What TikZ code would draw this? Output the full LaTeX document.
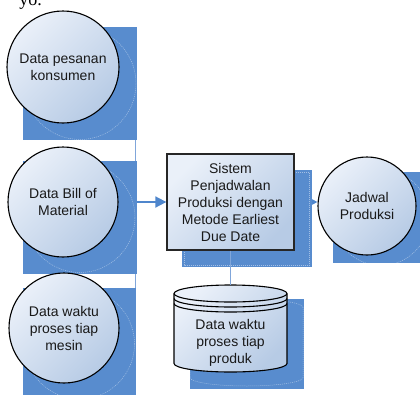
\documentclass[tikz,border=0pt]{standalone}
\usepackage{fontspec}
\setmainfont{Liberation Sans}
\newfontfamily\bodyserif{Liberation Serif}
\usetikzlibrary{arrows.meta}
\pgfdeclarelayer{lines}
\pgfdeclarelayer{shadows}
\pgfsetlayers{lines,shadows,main}

\definecolor{fillLight}{RGB}{234,240,249}
\definecolor{fillDark}{RGB}{183,203,229}
\definecolor{shadowBlue}{RGB}{88,140,206}
\definecolor{flowBlue}{RGB}{79,134,204}
\definecolor{feedBlue}{RGB}{128,166,218}

\tikzset{
  gradfill/.style={top color=fillLight, bottom color=fillDark, shading angle=45},
  label text/.style={align=center, font=\fontsize{14}{17}\selectfont, text=black!90},
  datacircle/.style={circle, draw=black, line width=1.1pt, inner sep=0pt,
    gradfill, label text},
  procbox/.style={rectangle, draw=black!85, line width=1.3pt, inner sep=0pt,
    gradfill, label text},
  shadowfill/.style={fill=shadowBlue},
  shadowedge/.style={draw=white, draw opacity=0.45, line width=0.5pt,
    dash pattern=on 1pt off 1pt},
  flow/.style={draw=flowBlue, line width=1.8pt,
    -{Triangle[length=11pt,width=11pt]}},
  feed/.style={draw=feedBlue, line width=0.9pt},
}

\begin{document}
\begin{tikzpicture}[x=1pt,y=1pt]
\useasboundingbox (0,0) rectangle (420,-394);

% fragment of the running text above the figure
\node[anchor=base east, inner sep=0pt, font=\bodyserif\fontsize{18}{20}\selectfont]
  (runtext) at (42,-5.5) {yo.};

% input data
\node[datacircle, minimum size=112] (c1) at (63,-67) {Data pesanan\\konsumen};
\node[datacircle, minimum size=110] (c2) at (63,-202) {Data Bill of\\Material};
\node[datacircle, minimum size=110] (c3) at (64,-328) {Data waktu\\proses tiap\\mesin};

% process
\node[procbox, minimum width=127, minimum height=96] (box) at (230.5,-202)
  {Sistem\\Penjadwalan\\Produksi dengan\\Metode Earliest\\Due Date};

% output
\node[datacircle, minimum size=98] (jd) at (367,-206) {Jadwal\\Produksi};

% data store (cylinder)
\shade[gradfill, draw=black, line width=1.1pt]
  (174,-293.5) -- (174,-363.5)
  arc[start angle=180, end angle=360, x radius=56.5pt, y radius=8.5pt]
  -- (287,-293.5)
  arc[start angle=0, end angle=180, x radius=56.5pt, y radius=8.5pt] -- cycle;
\draw[black, line width=1.1pt]
  (174,-293.5) arc[start angle=180, end angle=360, x radius=56.5pt, y radius=8.5pt];
\draw[black, line width=1.1pt]
  (174,-298.5) arc[start angle=180, end angle=360, x radius=56.5pt, y radius=8.5pt];
\draw[black, line width=1.1pt]
  (174,-303.5) arc[start angle=180, end angle=360, x radius=56.5pt, y radius=8.5pt];
\coordinate (dbtop) at (230.5,-285);
\node[label text, inner sep=0pt] (db) at (230.5,-343) {Data waktu\\proses tiap\\produk};

% drop shadows
\begin{pgfonlayer}{shadows}
  \fill[shadowfill] (23,-27) rectangle (137,-140);
  \draw[shadowedge] (80,-83.5) circle[radius=56pt];
  \fill[shadowfill] (23,-161) rectangle (137,-274);
  \draw[shadowedge] (80,-217.5) circle[radius=55pt];
  \fill[shadowfill] (23,-288) rectangle (136,-400);
  \draw[shadowedge] (79.5,-344) circle[radius=55pt];
  \fill[shadowfill] (182,-170) rectangle (312,-267);
  \draw[shadowedge] (184,-172) rectangle (309.5,-265);
  \fill[shadowfill] (333,-172) rectangle (430,-263);
  \draw[shadowedge] (381,-217.5) circle[radius=48pt];
  \fill[shadowfill] (190,-299) rectangle (304,-389);
  \draw[shadowedge] (190,-307.5) -- (190,-377.5)
    arc[start angle=180, end angle=360, x radius=56.5pt, y radius=8.5pt]
    -- (303,-307.5)
    arc[start angle=0, end angle=180, x radius=56.5pt, y radius=8.5pt];
\end{pgfonlayer}

% data flows
\coordinate (join) at (135,-202);
\begin{pgfonlayer}{lines}
  \draw[feed] (c1) -| (join);
  \draw[feed] (c3) -| (join);
  \draw[flow] (c2) -- (box);
  \draw[flow] (box.east) -- (box.east -| jd.west);
\end{pgfonlayer}
\draw[feed] (box.south) -- (dbtop);
\end{tikzpicture}
\end{document}
